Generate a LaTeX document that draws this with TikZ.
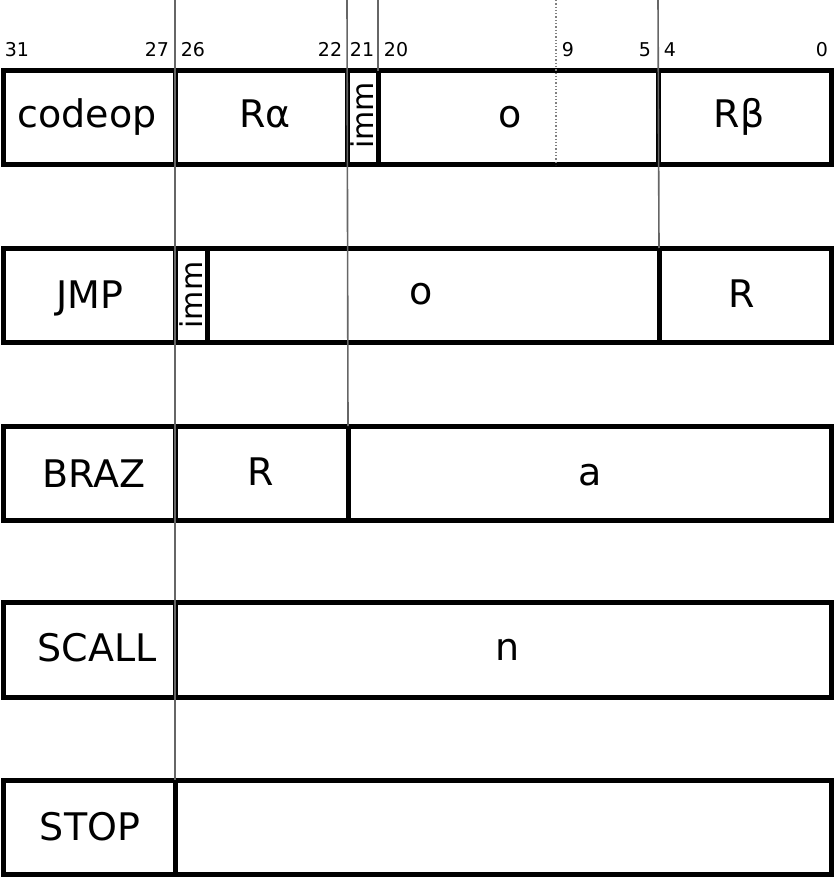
\documentclass[tikz,border=0pt]{standalone}
\usepackage{fontspec}
\setmainfont{DejaVu Sans}
\begin{document}
\begin{tikzpicture}[x=1pt,y=-1pt,
  field/.style={draw=black, line width=5pt, rectangle, inner sep=0pt, outer sep=0pt, minimum height=94pt},
  big/.style={font=\fontsize{38}{40}\selectfont, anchor=base, inner sep=0pt},
  immtxt/.style={font=\fontsize{30}{32}\selectfont, anchor=base, rotate=90, inner sep=0pt},
  bitnum/.style={font=\fontsize{19}{21}\selectfont, anchor=base, inner sep=0pt, text=black},
  guide/.style={draw=black!60, line width=1.6pt},
  dotguide/.style={draw=black!50, line width=1.3pt, dotted}]
\useasboundingbox (0,0) rectangle (835,877);

% guide coordinates at top
\coordinate (g175) at (175,0);
\coordinate (g347) at (347,0);
\coordinate (g378) at (378,0);
\coordinate (g556) at (556,0);
\coordinate (g658) at (658,0);
\coordinate (d556) at (556,165);

% row 1
\node[field, minimum width=172pt] (r1op) at (89,118) {};
\node[field, minimum width=172pt] (r1ra) at (261,118) {};
\node[field, minimum width=31pt] (r1imm) at (362.5,118) {};
\node[field, minimum width=280pt] (r1o) at (518,118) {};
\node[field, minimum width=173pt] (r1rb) at (744.5,118) {};
% row 2
\node[field, minimum width=172pt] (r2op) at (89,295) {};
\node[field, minimum width=32pt] (r2imm) at (191,295) {};
\node[field, minimum width=452pt] (r2o) at (433,295) {};
\node[field, minimum width=172pt] (r2r) at (745,295) {};
% row 3
\node[field, minimum width=172pt] (r3op) at (89,473) {};
\node[field, minimum width=173pt] (r3r) at (261.5,473) {};
\node[field, minimum width=483pt] (r3a) at (589.5,473) {};
% row 4
\node[field, minimum width=172pt, minimum height=95pt] (r4op) at (89,649.5) {};
\node[field, minimum width=656pt, minimum height=95pt] (r4n) at (503,649.5) {};
% row 5
\node[field, minimum width=172pt] (r5op) at (89,827) {};
\node[field, minimum width=656pt] (r5e) at (503,827) {};

% guide lines
\draw[guide] (g175) -- (r5op.north east);
\draw[guide] (g347) -- (r3r.north east);
\draw[guide] (g378) -- (r1imm.north east);
\draw[guide] (g658) -- (r2o.north east);
\draw[dotguide] (g556) -- (d556);

% bit numbers
\node[bitnum] (b31) at (17,57) {31};
\node[bitnum] (b27) at (157,57) {27};
\node[bitnum] (b26) at (193,57) {26};
\node[bitnum] (b22) at (330,57) {22};
\node[bitnum] (b21) at (362,57) {21};
\node[bitnum] (b20) at (396,57) {20};
\node[bitnum] (b9) at (568,57) {9};
\node[bitnum] (b5) at (645,57) {5};
\node[bitnum] (b4) at (670,57) {4};
\node[bitnum] (b0) at (822,57) {0};

% texts
\node[big] (t1a) at (87,128) {codeop};
\node[big] (t1b) at (265,128) {Rα};
\node[immtxt] (t1c) at (373,115.5) {imm};
\node[big] (t1d) at (510,128) {o};
\node[big] (t1e) at (739,128) {Rβ};

\node[big] (t2a) at (90,308) {JMP};
\node[immtxt] (t2b) at (202,295) {imm};
\node[big] (t2c) at (421,304) {o};
\node[big] (t2d) at (742,307) {R};

\node[big] (t3a) at (94,487) {BRAZ};
\node[big] (t3b) at (261,485) {R};
\node[big] (t3c) at (590,485) {a};

\node[big] (t4a) at (97,661) {SCALL};
\node[big] (t4b) at (508,660) {n};

\node[big] (t5a) at (90,840) {STOP};
\end{tikzpicture}
\end{document}
